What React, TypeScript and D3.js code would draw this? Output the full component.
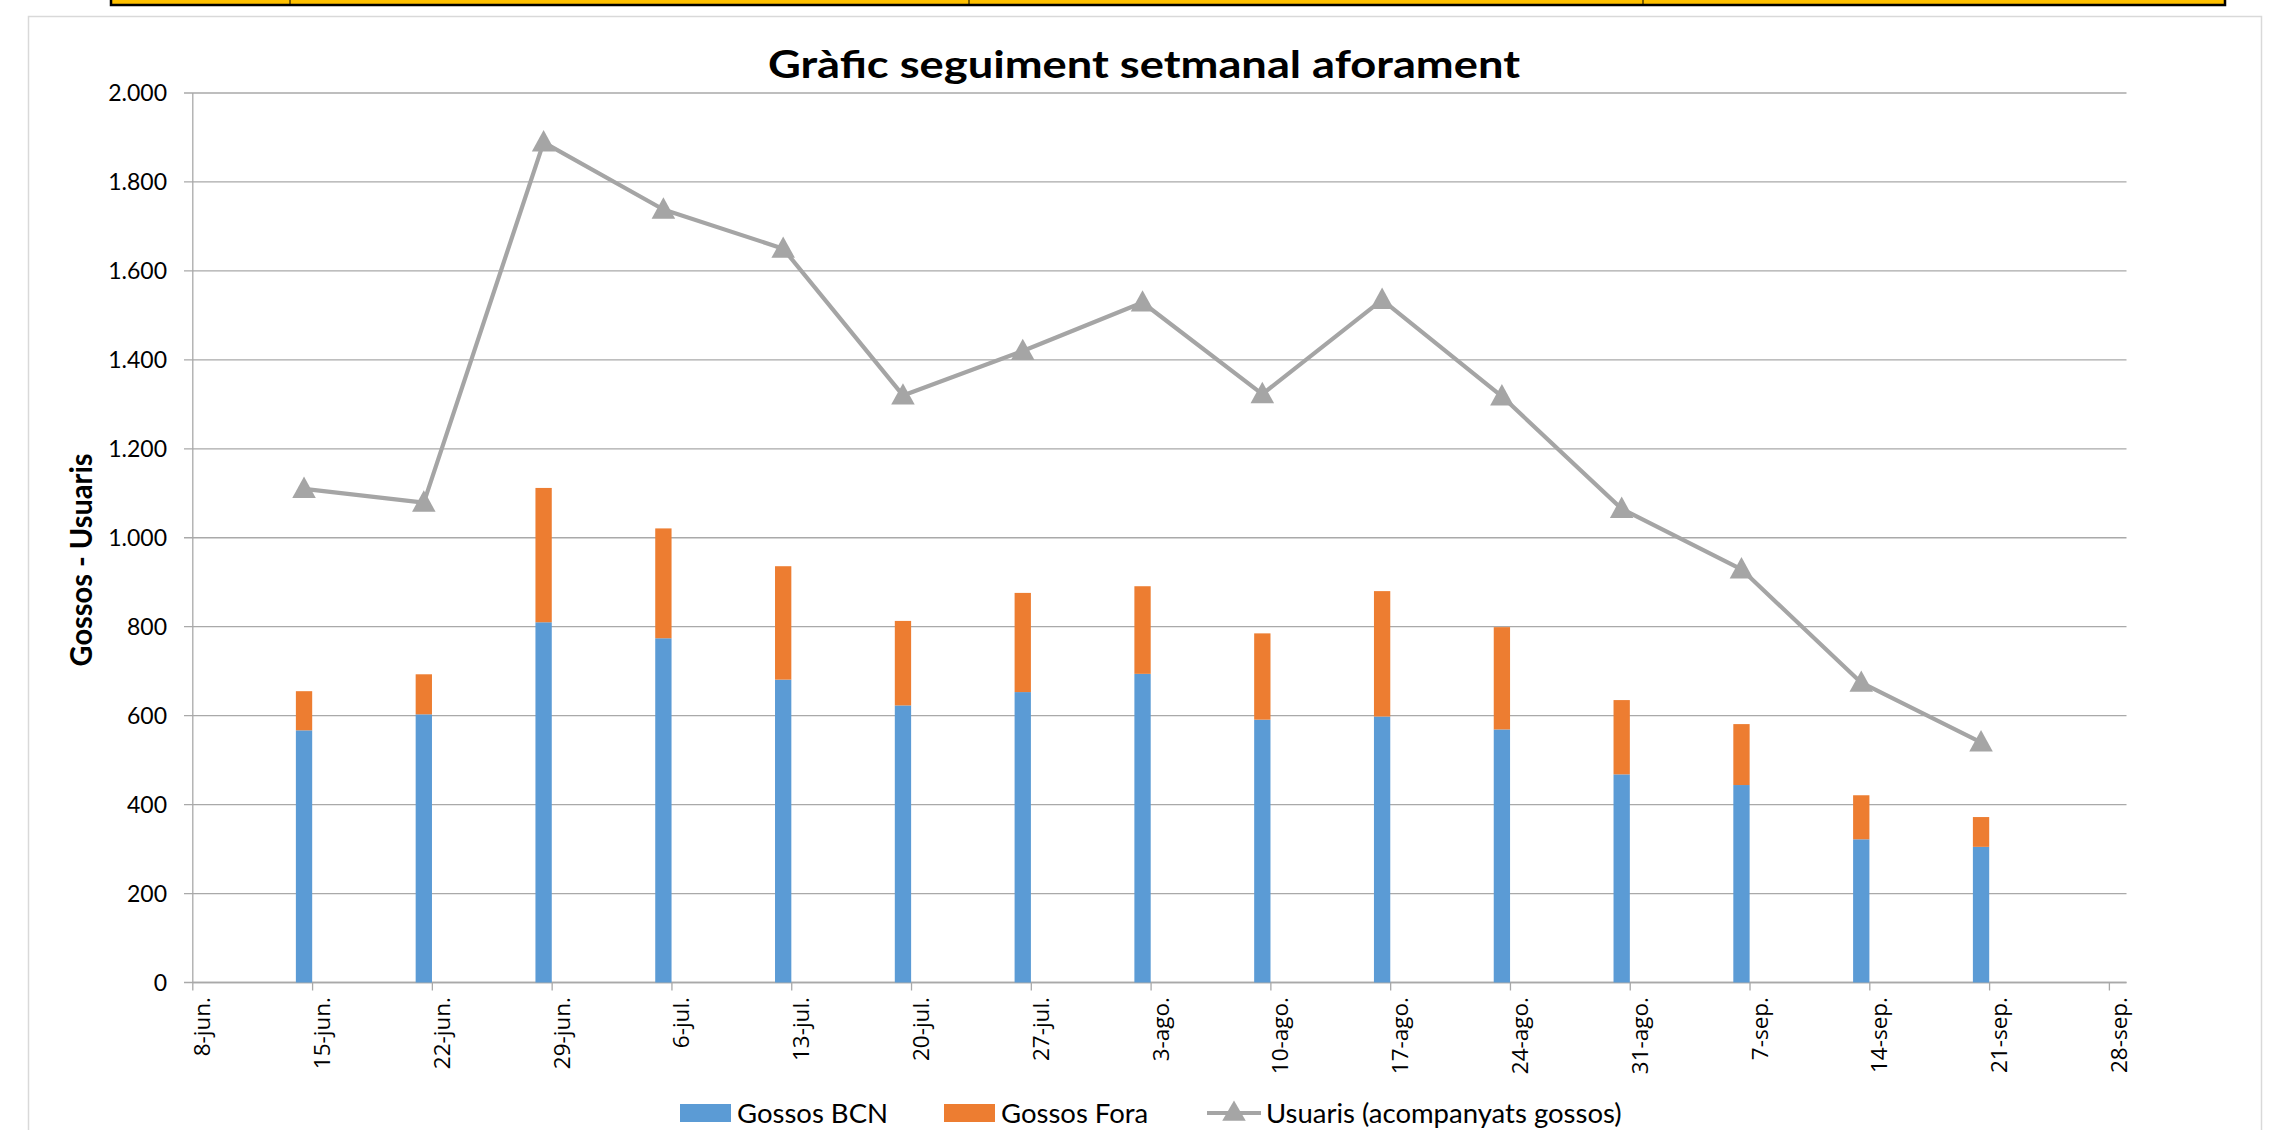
import React from "react";
import * as d3 from "d3";

// ---- data ----
const weekDates = [
  "2020-06-14", "2020-06-21", "2020-06-28", "2020-07-05", "2020-07-12",
  "2020-07-19", "2020-07-26", "2020-08-02", "2020-08-09", "2020-08-16",
  "2020-08-23", "2020-08-30", "2020-09-06", "2020-09-13", "2020-09-20",
];
const gossosBCN = [567, 603, 810, 774, 681, 623, 653, 694, 591, 598, 569, 468, 444, 322, 305];
const gossosFora = [88, 90, 302, 247, 255, 190, 223, 197, 194, 282, 230, 167, 137, 99, 67];
const usuaris = [1110, 1079, 1889, 1738, 1650, 1320, 1420, 1529, 1323, 1535, 1318, 1065, 929, 674, 540];
const monthAbbr = ["ene.", "feb.", "mar.", "abr.", "may.", "jun.", "jul.", "ago.", "sep.", "oct.", "nov.", "dic."];
const axisStart = "2020-06-08";
const axisEnd = "2020-09-29";
const yMax = 2000;
const yStep = 200;
const seriesNames = ["Gossos BCN", "Gossos Fora", "Usuaris (acompanyats gossos)"];
const titleText = "Gràfic seguiment setmanal aforament";
const yAxisTitle = "Gossos - Usuaris";

const BLUE = "#5B9BD5";
const ORANGE = "#ED7D31";
const GRAY = "#A5A5A5";
const GRID = "#A9A9A9";
const CAL = "Lato, 'Open Sans', sans-serif";
const SEG = "'Open Sans', 'Noto Sans', sans-serif";

const W = 2285, H = 1130;
const plot = { left: 192.8, right: 2126.5, top: 93, bottom: 982.5 };

const parse = (s: string) => new Date(s + "T00:00:00Z");

export default function App() {
  const x = d3.scaleUtc().domain([parse(axisStart), parse(axisEnd)]).range([plot.left, plot.right]);
  const y = d3.scaleLinear().domain([0, yMax]).range([plot.bottom, plot.top]);
  const locale = d3.formatLocale({ decimal: ",", thousands: ".", grouping: [3], currency: ["", "€"] });
  const fmt = locale.format(",d");
  const yTicks = d3.range(0, yMax + 1, yStep);
  const mondayTicks = d3.utcMonday.range(parse(axisStart), parse(axisEnd));
  const tickLabel = (d: Date) => `${d.getUTCDate()}-${monthAbbr[d.getUTCMonth()]}`;

  const dates = weekDates.map(parse);
  const center = (d: Date) => x(d3.utcHour.offset(d, 12));
  const line = d3.line<number>().x((_, i) => center(dates[i])).y((v) => y(v));

  const tri = d3.symbol().type(d3.symbolTriangle).size(240)();

  const legendY = 1113;

  return (
    <svg width={W} height={H} style={{ position: "absolute", left: 0, top: 0, background: "#fff" }}>
      {/* top table strip */}
      <rect x={111} y={-2} width={2114} height={7} fill="#FFC000" stroke="#000" strokeWidth={2.5} />
      {[290, 969, 1643].map((xx) => (
        <line key={xx} x1={xx} x2={xx} y1={0} y2={5} stroke="#000" strokeWidth={1} />
      ))}
      {/* chart frame */}
      <rect x={28.5} y={16.5} width={2233} height={H + 10} fill="#fff" stroke="#D9D9D9" strokeWidth={1.5} />

      {/* title */}
      <text x={1144} y={77.5} textAnchor="middle" fontFamily={CAL} fontWeight={700} fontSize={38}
        textLength={752} lengthAdjust="spacingAndGlyphs" fill="#000">{titleText}</text>

      {/* gridlines */}
      {yTicks.map((t) => (
        <line key={t} x1={184} x2={plot.right} y1={y(t)} y2={y(t)} stroke={GRID} strokeWidth={1.3} />
      ))}
      {/* y axis */}
      <line x1={plot.left} x2={plot.left} y1={plot.top} y2={plot.bottom} stroke={GRID} strokeWidth={1.3} />
      {yTicks.map((t) => (
        <text key={t} x={167} y={y(t)} dy="0.35em" textAnchor="end" fontFamily={CAL} fontSize={23} fill="#000">
          {fmt(t)}
        </text>
      ))}
      <text transform={`translate(91.5,560) rotate(-90)`} textAnchor="middle" fontFamily={CAL} fontWeight={700}
        fontSize={30} textLength={213} lengthAdjust="spacingAndGlyphs" fill="#000">{yAxisTitle}</text>

      {/* x axis */}
      <line x1={plot.left} x2={plot.right} y1={plot.bottom} y2={plot.bottom} stroke={GRID} strokeWidth={1.3} />
      {mondayTicks.map((d) => (
        <g key={d.toISOString()}>
          <line x1={x(d)} x2={x(d)} y1={plot.bottom} y2={plot.bottom + 8} stroke={GRID} strokeWidth={1.3} />
          <text transform={`translate(${x(d) + 17.5},997) rotate(-90)`} textAnchor="end" fontFamily={SEG}
            fontSize={22.5} fill="#000">{tickLabel(d)}</text>
        </g>
      ))}

      {/* bars */}
      {dates.map((d, i) => {
        const x0 = x(d) + 0.4;
        const w = x(d3.utcDay.offset(d, 1)) - x(d) - 0.8;
        return (
          <g key={i}>
            <rect x={x0} width={w} y={y(gossosBCN[i])} height={y(0) - y(gossosBCN[i])} fill={BLUE} />
            <rect x={x0} width={w} y={y(gossosBCN[i] + gossosFora[i])}
              height={y(gossosBCN[i]) - y(gossosBCN[i] + gossosFora[i])} fill={ORANGE} />
          </g>
        );
      })}

      {/* line */}
      <path d={line(usuaris) || ""} fill="none" stroke={GRAY} strokeWidth={4.2} strokeLinejoin="round" />
      {usuaris.map((v, i) => (
        <path key={i} d={tri || ""} transform={`translate(${center(dates[i])},${y(v) + 2}) scale(1.0,1.05)`} fill={GRAY} />
      ))}

      {/* legend */}
      <rect x={680} y={legendY - 9} width={51} height={18} fill={BLUE} />
      <text x={737} y={legendY} dy="0.35em" fontFamily={CAL} fontSize={27.5} fill="#000">{seriesNames[0]}</text>
      <rect x={944} y={legendY - 9} width={51} height={18} fill={ORANGE} />
      <text x={1001} y={legendY} dy="0.35em" fontFamily={CAL} fontSize={27.5} fill="#000">{seriesNames[1]}</text>
      <line x1={1207} x2={1261} y1={legendY} y2={legendY} stroke={GRAY} strokeWidth={4.2} />
      <path d={tri || ""} transform={`translate(1234,${legendY + 1})`} fill={GRAY} />
      <text x={1266} y={legendY} dy="0.35em" fontFamily={CAL} fontSize={27.5} fill="#000">{seriesNames[2]}</text>
    </svg>
  );
}
